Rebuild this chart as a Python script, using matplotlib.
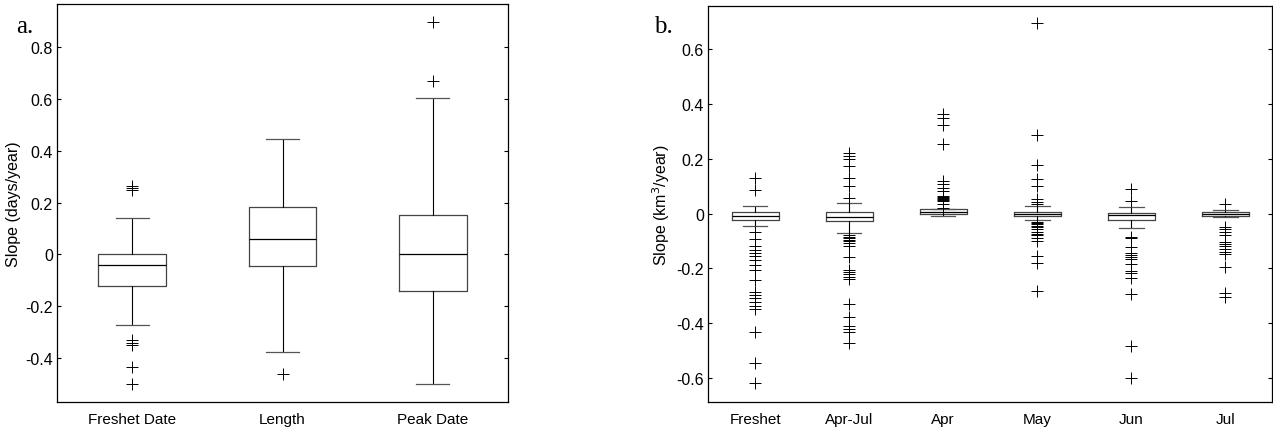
import matplotlib
matplotlib.use("Agg")
import matplotlib.pyplot as plt
from matplotlib.ticker import FuncFormatter

plt.rcParams['font.family'] = ['Liberation Sans', 'DejaVu Sans']
plt.rcParams['axes.unicode_minus'] = False

# panel a: timing metrics (days/year)
cats_a = ['Freshet Date', 'Length', 'Peak Date']
q1_a = [-0.121, -0.046, -0.141]
med_a = [-0.041, 0.059, 0.0]
q3_a = [0.0, 0.183, 0.154]
lo_a = [-0.271, -0.375, -0.5]
hi_a = [0.141, 0.443, 0.602]
out_a = [
    [0.265, 0.255, 0.248, -0.33, -0.34, -0.35, -0.435, -0.5],
    [-0.461],
    [0.669, 0.894],
]

# panel b: volume metrics (km3/year)
cats_b = ['Freshet', 'Apr-Jul', 'Apr', 'May', 'Jun', 'Jul']
q1_b = [-0.023, -0.027, 0.0, -0.009, -0.023, -0.009]
med_b = [-0.008, -0.011, 0.006, 0.0, -0.006, -0.002]
q3_b = [0.004, 0.006, 0.015, 0.007, 0.001, 0.004]
lo_b = [-0.045, -0.072, -0.009, -0.024, -0.054, -0.014]
hi_b = [0.028, 0.04, 0.018, 0.026, 0.024, 0.013]
out_b = [
    [0.128, 0.086, -0.067, -0.094, -0.12, -0.133, -0.145, -0.155, -0.169,
     -0.189, -0.206, -0.242, -0.286, -0.298, -0.31, -0.323, -0.337, -0.347,
     -0.432, -0.547, -0.62],
    [0.22, 0.21, 0.2, 0.175, 0.13, 0.1, 0.055, -0.079, -0.084, -0.09, -0.096,
     -0.102, -0.108, -0.12, -0.157, -0.206, -0.213, -0.222, -0.23, -0.24,
     -0.332, -0.378, -0.409, -0.421, -0.433, -0.472],
    [0.362, 0.35, 0.322, 0.253, 0.119, 0.107, 0.095, 0.082, 0.064, 0.06,
     0.056, 0.052, 0.048, 0.045, 0.034, 0.022],
    [0.695, 0.286, 0.177, 0.125, 0.101, 0.052, 0.042, 0.034, -0.031, -0.036,
     -0.039, -0.045, -0.05, -0.057, -0.069, -0.074, -0.079, -0.088, -0.1,
     -0.155, -0.179, -0.283],
    [0.091, 0.046, -0.084, -0.09, -0.124, -0.145, -0.152, -0.157, -0.165,
     -0.185, -0.21, -0.218, -0.235, -0.295, -0.483, -0.602],
    [0.036, -0.051, -0.057, -0.069, -0.079, -0.104, -0.112, -0.12, -0.13,
     -0.14, -0.149, -0.194, -0.289, -0.303],
]


def stats(q1, med, q3, lo, hi, out):
    return [dict(q1=a, med=b, q3=c, whislo=d, whishi=e, fliers=f)
            for a, b, c, d, e, f in zip(q1, med, q3, lo, hi, out)]


def fmt(v, pos):
    if abs(v) < 1e-9:
        return '0'
    return ('%.1f' % v)


def draw(ax, st, cats, width, capw):
    ax.bxp(st, widths=width, capwidths=capw, showfliers=True,
           boxprops=dict(color='#444444', lw=0.9),
           whiskerprops=dict(color='black', lw=0.8, linestyle='-'),
           capprops=dict(color='#555555', lw=0.9),
           medianprops=dict(color='black', lw=0.9),
           flierprops=dict(marker='+', markersize=9, markeredgewidth=0.7,
                           markeredgecolor='black', linestyle='none'))
    ax.set_xticks(range(1, len(cats) + 1))
    ax.set_xticklabels(cats, fontsize=11)
    ax.set_xlim(0.5, len(cats) + 0.5)
    ax.tick_params(axis='x', length=0, pad=7)
    ax.tick_params(axis='y', direction='in', length=3, width=0.8,
                   right=True, labelsize=11.5, pad=3)
    ax.yaxis.set_major_formatter(FuncFormatter(fmt))
    for s in ax.spines.values():
        s.set_linewidth(0.9)


fig = plt.figure(figsize=(12.73, 4.31), dpi=100)
ax1 = fig.add_axes([0.0448, 0.065, 0.3543, 0.923])
ax2 = fig.add_axes([0.5562, 0.065, 0.4434, 0.919])

draw(ax1, stats(q1_a, med_a, q3_a, lo_a, hi_a, out_a), cats_a, 0.45, 0.22)
ax1.set_ylim(-0.568, 0.964)
ax1.set_yticks([-0.4, -0.2, 0, 0.2, 0.4, 0.6, 0.8])
ax1.set_ylabel('Slope (days/year)', fontsize=11.5, labelpad=3)

draw(ax2, stats(q1_b, med_b, q3_b, lo_b, hi_b, out_b), cats_b, 0.5, 0.26)
ax2.set_ylim(-0.688, 0.758)
ax2.set_yticks([-0.6, -0.4, -0.2, 0, 0.2, 0.4, 0.6])
ax2.set_ylabel('Slope (km$^3$/year)', fontsize=11.5, labelpad=3)

fig.text(0.013, 0.924, 'a.', fontsize=18, family='Liberation Serif')
fig.text(0.514, 0.924, 'b.', fontsize=18, family='Liberation Serif')

fig.savefig('out.png', dpi=100)
